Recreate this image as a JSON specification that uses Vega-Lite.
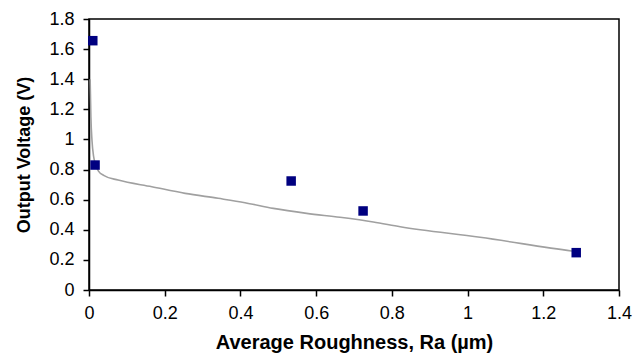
{
  "$schema": "https://vega.github.io/schema/vega-lite/v6.json",
  "width": 530,
  "height": 271,
  "autosize": "none",
  "padding": {"left": 89, "top": 19, "right": 14, "bottom": 67},
  "background": "white",
  "config": {
    "view": {"stroke": "black", "strokeWidth": 1.5}
  },
  "datasets": {
    "points": [
      {"ra": 0.01, "v": 1.656},
      {"ra": 0.016, "v": 0.83},
      {"ra": 0.534, "v": 0.724},
      {"ra": 0.724, "v": 0.525},
      {"ra": 1.287, "v": 0.248}
    ],
    "fit": [
      {"ra": 0.003, "v": 1.40},
      {"ra": 0.005, "v": 1.15},
      {"ra": 0.008, "v": 0.99},
      {"ra": 0.012, "v": 0.89},
      {"ra": 0.018, "v": 0.83},
      {"ra": 0.025, "v": 0.79},
      {"ra": 0.04, "v": 0.76},
      {"ra": 0.077, "v": 0.73},
      {"ra": 0.166, "v": 0.686},
      {"ra": 0.254, "v": 0.642},
      {"ra": 0.341, "v": 0.609},
      {"ra": 0.412, "v": 0.58},
      {"ra": 0.487, "v": 0.542},
      {"ra": 0.575, "v": 0.509},
      {"ra": 0.663, "v": 0.483},
      {"ra": 0.751, "v": 0.452},
      {"ra": 0.822, "v": 0.42},
      {"ra": 1.033, "v": 0.35},
      {"ra": 1.275, "v": 0.259},
      {"ra": 1.287, "v": 0.255}
    ]
  },
  "encoding": {
    "x": {"field": "ra", "type": "quantitative", "scale": {"domain": [0, 1.4]},
      "axis": {"values": [0, 0.2, 0.4, 0.6, 0.8, 1, 1.2, 1.4], "format": ".1~f", "title": "Average Roughness, Ra (µm)",
        "grid": false, "domainColor": "black", "domainWidth": 1.5, "tickColor": "black", "tickWidth": 1.5, "tickSize": 6,
        "labelFont": "Liberation Sans", "labelFontSize": 18, "labelColor": "black", "labelOverlap": false, "labelFlush": false, "labelPadding": 8,
        "titleFont": "Liberation Sans", "titleFontSize": 20, "titleFontWeight": "bold", "titleColor": "black", "titlePadding": 10}},
    "y": {"field": "v", "type": "quantitative", "scale": {"domain": [0, 1.8]},
      "axis": {"values": [0, 0.2, 0.4, 0.6, 0.8, 1, 1.2, 1.4, 1.6, 1.8], "format": ".1~f", "title": "Output Voltage (V)",
        "grid": false, "domainColor": "black", "domainWidth": 1.5, "tickColor": "black", "tickWidth": 1.5, "tickSize": 6,
        "labelFont": "Liberation Sans", "labelFontSize": 18, "labelColor": "black", "labelOverlap": false, "labelFlush": false, "labelPadding": 9,
        "titleFont": "Liberation Sans", "titleFontSize": 18, "titleFontWeight": "bold", "titleColor": "black", "titlePadding": 15}}
  },
  "layer": [
    {
      "data": {"name": "fit"},
      "mark": {"type": "line", "color": "#a0a0a0", "strokeWidth": 1.6, "interpolate": "monotone"}
    },
    {
      "data": {"name": "points"},
      "mark": {"type": "square", "color": "#000080", "filled": true, "opacity": 1, "size": 90}
    }
  ]
}
